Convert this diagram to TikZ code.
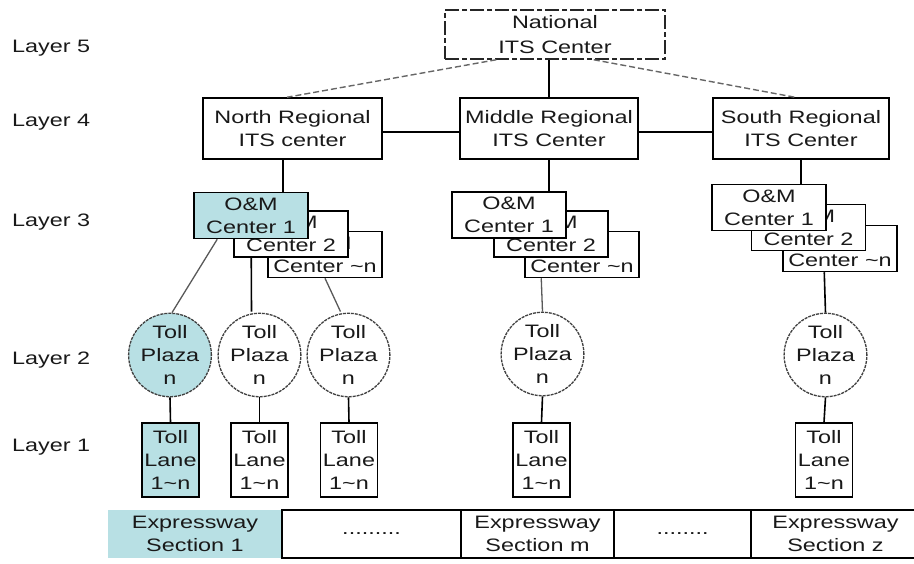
\documentclass[tikz,border=0pt]{standalone}
\usepackage{fontspec}
\setmainfont{Liberation Sans}[FakeStretch=1.3]
\usetikzlibrary{shapes.geometric}
\definecolor{tealfill}{RGB}{184,224,228}
\begin{document}
\begin{tikzpicture}[x=1pt,y=-1pt,
  txt/.style={font=\fontsize{18}{23}\selectfont, text=black!90, align=center, inner sep=0pt},
  box/.style={txt, rectangle, draw=black, line width=1.5pt, fill=white},
  natbox/.style={txt, rectangle, draw=black!85, line width=1.5pt, dash pattern=on 14pt off 3pt on 5pt off 3pt, minimum width=220pt, minimum height=49pt, font=\fontsize{18}{25}\selectfont},
  regbox/.style={box, minimum width=178pt, minimum height=61pt},
  ombox/.style={box, minimum width=114pt, minimum height=46pt},
  plaza/.style={txt, ellipse, draw=black!75, dash pattern=on 3pt off 1pt, line width=1.3pt, minimum width=82pt, minimum height=72pt, fill=white},
  lane/.style={box, minimum width=57pt, minimum height=74pt},
  hl/.style={fill=tealfill},
  cell/.style={txt, rectangle, draw=black, line width=1.4pt, minimum height=48pt},
  link/.style={line width=1.6pt, draw=black},
  glink/.style={line width=1.3pt, draw=black!65},
  dlink/.style={line width=1.4pt, draw=black!60, dash pattern=on 6pt off 3pt},
  layer/.style={txt, anchor=west}]
\useasboundingbox (0,0) rectangle (914,563);

% layer labels
\node[layer] (L5) at (12,48) {Layer 5};
\node[layer] (L4) at (12,122) {Layer 4};
\node[layer] (L3) at (12,222) {Layer 3};
\node[layer] (L2) at (12,360) {Layer 2};
\node[layer] (L1) at (12,447) {Layer 1};

% layer 5 and 4
\node[natbox] (nat) at (555,34.5) {National\\ITS Center};
\node[regbox, minimum width=179pt] (north) at (292.5,128.5) {North Regional\\ITS center};
\node[regbox] (mid) at (549,128.5) {Middle Regional\\ITS Center};
\node[regbox, minimum width=176pt] (south) at (801,128.5) {South Regional\\ITS Center};

% layer 3 (stacked)
\node[ombox] (ncn) at (325,254.5) {O\&M\\Center \textasciitilde n};
\node[ombox] (nc2) at (291,234) {O\&M\\Center 2};
\node[ombox, hl] (nc1) at (251,215.5) {O\&M\\Center 1};
\node[ombox] (mcn) at (582,254.5) {O\&M\\Center \textasciitilde n};
\node[ombox] (mc2) at (551,234) {O\&M\\Center 2};
\node[ombox] (mc1) at (509,215) {O\&M\\Center 1};
\node[ombox] (scn) at (840,248.5) {O\&M\\Center \textasciitilde n};
\node[ombox] (sc2) at (808.5,227.5) {O\&M\\Center 2};
\node[ombox] (sc1) at (769,207.5) {O\&M\\Center 1};

% layer 2
\node[plaza, hl] (np1) at (170,355) {Toll\\Plaza\\n};
\node[plaza] (np2) at (259.5,355) {Toll\\Plaza\\n};
\node[plaza] (np3) at (348.5,355) {Toll\\Plaza\\n};
\node[plaza] (mp) at (542.5,354) {Toll\\Plaza\\n};
\node[plaza] (sp) at (825.5,355) {Toll\\Plaza\\n};

% layer 1
\node[lane, hl] (nl1) at (170.5,460) {Toll\\Lane\\1\textasciitilde n};
\node[lane] (nl2) at (259.5,460) {Toll\\Lane\\1\textasciitilde n};
\node[lane] (nl3) at (349,460) {Toll\\Lane\\1\textasciitilde n};
\node[lane] (ml) at (541.5,460) {Toll\\Lane\\1\textasciitilde n};
\node[lane] (sl) at (824,460) {Toll\\Lane\\1\textasciitilde n};

% expressway sections
\node[cell, draw=none, fill=tealfill, minimum width=174pt] (e1) at (195,534) {Expressway\\Section 1};
\node[cell, minimum width=179pt] (e2) at (371.5,534) {.........};
\node[cell, minimum width=153pt] (e3) at (537.5,534) {Expressway\\Section m};
\node[cell, minimum width=137pt] (e4) at (682.5,534) {........};
\node[cell, minimum width=169pt] (e5) at (835.5,534) {Expressway\\Section z};

% connectors layer 5 - 4
\draw[link] (mid.north) -- (mid.north |- nat.south);
\draw[dlink] ([xshift=52pt]nat.south west) -- ([xshift=-5.5pt]north.north);
\draw[dlink] ([xshift=-72pt]nat.south east) -- ([xshift=-6pt]south.north);
\draw[link] ([yshift=-3.5pt]north.east) -- ([yshift=-3.5pt]mid.west);
\draw[link] ([yshift=-3.5pt]mid.east) -- ([yshift=-3.5pt]south.west);

% connectors layer 4 - 3
\coordinate (nlx) at ([xshift=-9.5pt]north.south);
\draw[link] (nlx) -- (nlx |- nc1.north);
\draw[link] (mid.south) -- (mid.south |- mc1.north);
\draw[link] (south.south) -- (south.south |- sc1.north);

% connectors layer 3 - 2
\draw[glink] ([xshift=24pt]nc1.south west) -- ([xshift=2pt]np1.north);
\draw[link] ([xshift=18pt]nc2.south west) -- ([xshift=-8pt,yshift=1pt]np2.north);
\draw[glink] (ncn.south) -- ([xshift=-8pt,yshift=1pt]np3.north);
\draw[glink] ([xshift=17pt]mcn.south west) -- (mp.north);
\draw[link] ([xshift=42pt]scn.south west) -- (sp.north);

% connectors layer 2 - 1
\draw[link] (np1.south) -- (nl1.north);
\draw[link] (np2.south) -- (nl2.north);
\draw[link] (np3.south) -- (nl3.north);
\draw[link] (mp.south) -- (ml.north);
\draw[link] (sp.south) -- (sl.north);
\end{tikzpicture}
\end{document}
